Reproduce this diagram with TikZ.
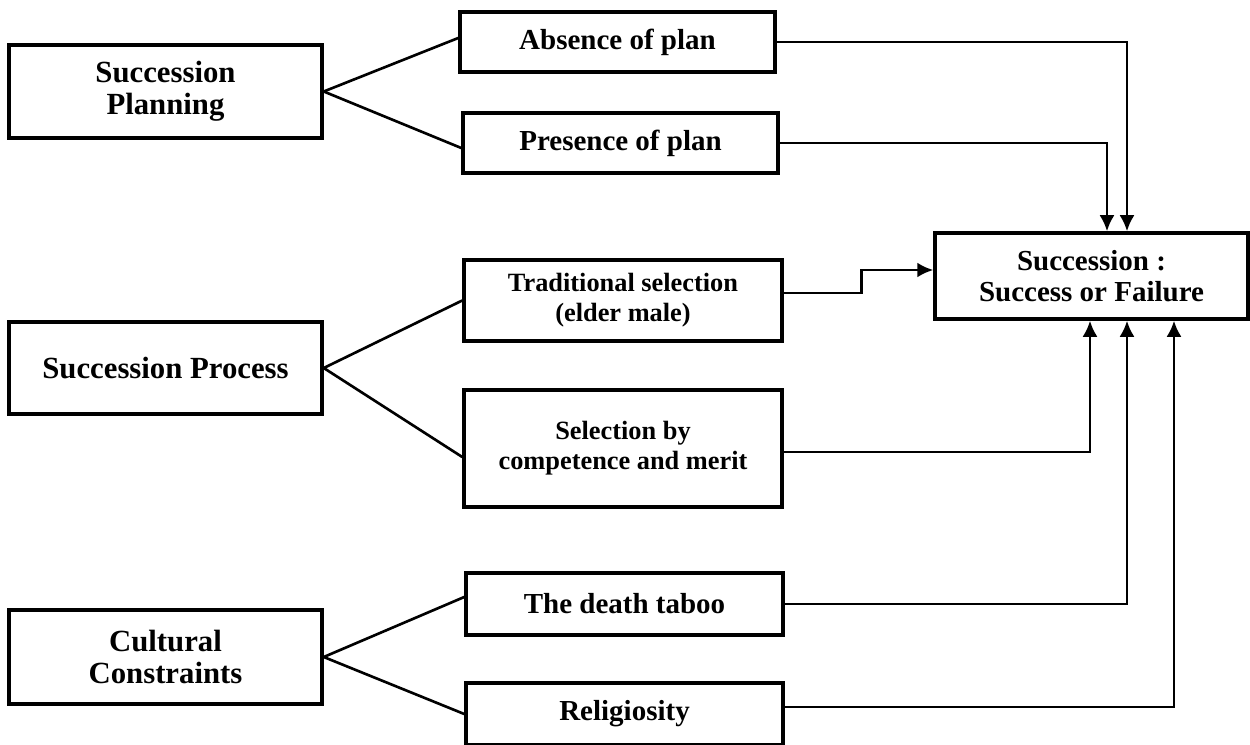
\documentclass[tikz,border=0pt]{standalone}
\usepackage{fontspec}
\setmainfont{Liberation Serif}
\usepackage{tikz}
\usetikzlibrary{arrows.meta,positioning,calc}
\tikzstyle{block} = [draw, line width=2pt, rectangle, inner sep=0pt, align=center]
\tikzstyle{line} = [line width=1.5pt]
\tikzstyle{arrow} = [line width=1.5pt, -{Latex[length=3.2mm,width=3mm]}]
\newcommand{\bigfont}{\bfseries\fontsize{17.5}{18}\selectfont}
\newcommand{\midfont}{\bfseries\fontsize{16.5}{18}\selectfont}
\newcommand{\smallfont}{\bfseries\fontsize{15}{17}\selectfont}

\begin{document}
\begin{tikzpicture}
	\useasboundingbox (0,0) rectangle (25,-14.9);
	% main factors
	\node[block, minimum width=6.26cm, minimum height=1.86cm, font=\bigfont] (plan) at (3.31,-1.83) {Succession\\Planning};
	\node[block, minimum width=6.26cm, minimum height=1.84cm, font=\bigfont] (process) at (3.31,-7.36) {Succession Process};
	\node[block, minimum width=6.26cm, minimum height=1.88cm, font=\bigfont] (culture) at (3.31,-13.14) {Cultural\\Constraints};
	% sub factors
	\node[block, minimum width=6.3cm, minimum height=1.2cm, font=\midfont] (absence) at (12.35,-0.84) {Absence of plan};
	\node[block, minimum width=6.3cm, minimum height=1.2cm, font=\midfont] (presence) at (12.41,-2.86) {Presence of plan};
	\node[block, minimum width=6.36cm, minimum height=1.62cm, font=\smallfont] (trad) at (12.46,-6.01) {Traditional selection\\(elder male)};
	\node[block, minimum width=6.36cm, minimum height=2.34cm, font=\smallfont] (merit) at (12.46,-8.97) {Selection by\\competence and merit};
	\node[block, minimum width=6.34cm, minimum height=1.24cm, font=\midfont] (taboo) at (12.49,-12.08) {The death taboo};
	\node[block, minimum width=6.34cm, minimum height=1.24cm, font=\midfont] (relig) at (12.49,-14.28) {Religiosity};
	% outcome
	\node[block, minimum width=6.26cm, minimum height=1.72cm, font=\midfont] (target) at (21.83,-5.52) {Succession :\\Success or Failure};

	\draw[line] (plan.east) -- ([yshift=0.08cm]absence.west);
	\draw[line] (plan.east) -- ([yshift=-0.1cm]presence.west);
	\draw[line] (process.east) -- (trad.west);
	\draw[line] (process.east) -- ([yshift=-0.17cm]merit.west);
	\draw[line] (culture.east) -- ([yshift=0.14cm]taboo.west);
	\draw[line] (culture.east) -- (relig.west);

	\draw[arrow] (absence.east) -| ($(target.north)+(0.71,0)$);
	\draw[arrow] (presence.east) -| ($(target.north)+(0.31,0)$);
	\draw[arrow] ([yshift=0.15cm]trad.east) -- ++(1.56,0) |- ([yshift=0.12cm]target.west);
	\draw[arrow] ([yshift=-0.07cm]merit.east) -| ($(target.south)+(-0.03,0)$);
	\draw[arrow] (taboo.east) -| ($(target.south)+(0.71,0)$);
	\draw[arrow] ([yshift=0.14cm]relig.east) -| ($(target.south)+(1.65,0)$);
\end{tikzpicture}
\end{document}
